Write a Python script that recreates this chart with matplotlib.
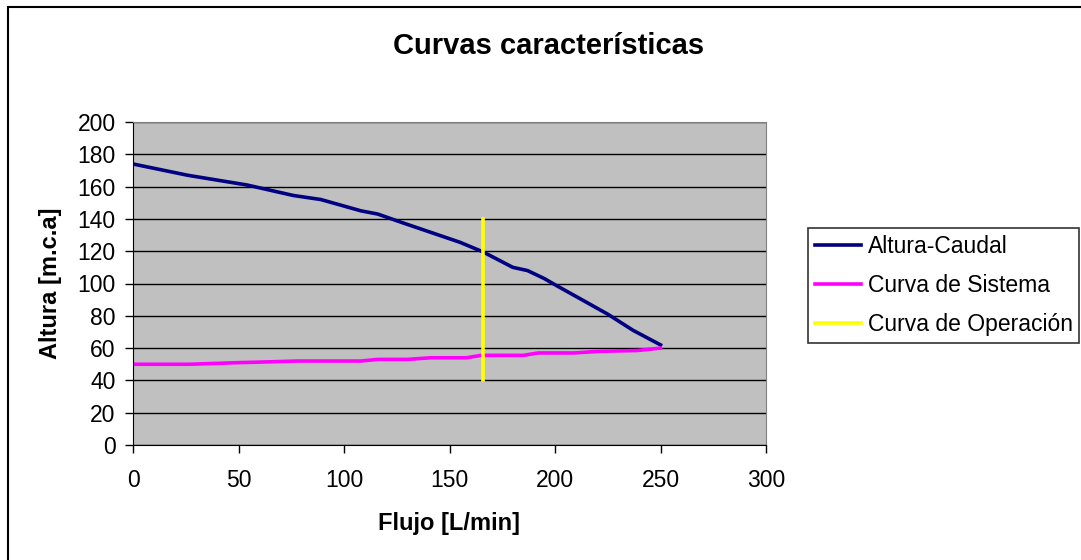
import matplotlib
matplotlib.use("Agg")
import matplotlib.pyplot as plt
from matplotlib.patches import Rectangle

plt.rcParams['font.family'] = ['Liberation Sans', 'DejaVu Sans']

# Altura-Caudal (curva de la bomba)
flujo_bomba = [0, 26, 54, 76, 89, 108, 116, 128, 155, 166, 180, 187, 195, 201, 212, 225, 237, 250]
altura_bomba = [174, 167, 161, 154.5, 152, 145, 143, 137.5, 125.5, 119.5, 110, 108, 103, 98.5, 90.5, 81, 71, 62]

# Curva de sistema
flujo_sist = [0, 27, 50, 65, 78, 108, 116, 130, 141, 158, 165, 185, 192, 209, 221, 239, 250]
altura_sist = [50, 50, 51, 51.5, 52, 52, 53, 53, 54, 54, 55.5, 55.5, 57, 57, 58, 58.5, 60]

# Curva de operacion (vertical)
flujo_op = [166, 166]
altura_op = [40, 140]

x_ticks = [0, 50, 100, 150, 200, 250, 300]
y_ticks = [0, 20, 40, 60, 80, 100, 120, 140, 160, 180, 200]

fig = plt.figure(figsize=(10.81, 5.6), dpi=100)
fig.patch.set_facecolor('white')

# marco exterior del grafico
fig.patches.append(Rectangle((8 / 1081, -0.1), 1.2, 1.1 - 7 / 560, transform=fig.transFigure,
                             fill=False, edgecolor='black', linewidth=1.5, figure=fig))

ax = fig.add_axes([133 / 1081, 1 - 445 / 560, (766 - 133) / 1081, (445 - 122) / 560])
ax.set_facecolor('#C0C0C0')

ax.plot(flujo_bomba, altura_bomba, color='#000080', linewidth=2.6, label='Altura-Caudal')
ax.plot(flujo_sist, altura_sist, color='#FF00FF', linewidth=2.6, label='Curva de Sistema')
ax.plot(flujo_op, altura_op, color='#FFFF00', linewidth=2.6, label='Curva de Operación')

ax.set_xlim(0, 300)
ax.set_ylim(0, 200)
ax.set_xticks(x_ticks)
ax.set_yticks(y_ticks)
ax.grid(axis='y', color='black', linewidth=1)
ax.set_axisbelow(True)
ax.tick_params(direction='out', length=5.5, width=1, labelsize=16.5)
ax.tick_params(axis='x', pad=12)
ax.tick_params(axis='y', pad=7)

for s in ['top', 'right']:
    ax.spines[s].set_color('#808080')
for s in ['left', 'bottom']:
    ax.spines[s].set_color('black')

ax.set_xlabel('Flujo [L/min]', fontsize=17, fontweight='bold', labelpad=14)
ax.set_ylabel('Altura [m.c.a]', fontsize=17, fontweight='bold', labelpad=11)
fig.text(549 / 1081, 1 - 46 / 560, 'Curvas características', fontsize=21, fontweight='bold',
         ha='center', va='center')

leg = fig.legend(loc='upper left', bbox_to_anchor=(808 / 1081, 1 - 228 / 560), fontsize=16.5,
                 frameon=True, fancybox=False, edgecolor='black', handlelength=2.0,
                 handletextpad=0.3, labelspacing=0.7, borderpad=0.3, borderaxespad=0)
leg.get_frame().set_linewidth(1.2)

fig.savefig('out.png', dpi=100)
